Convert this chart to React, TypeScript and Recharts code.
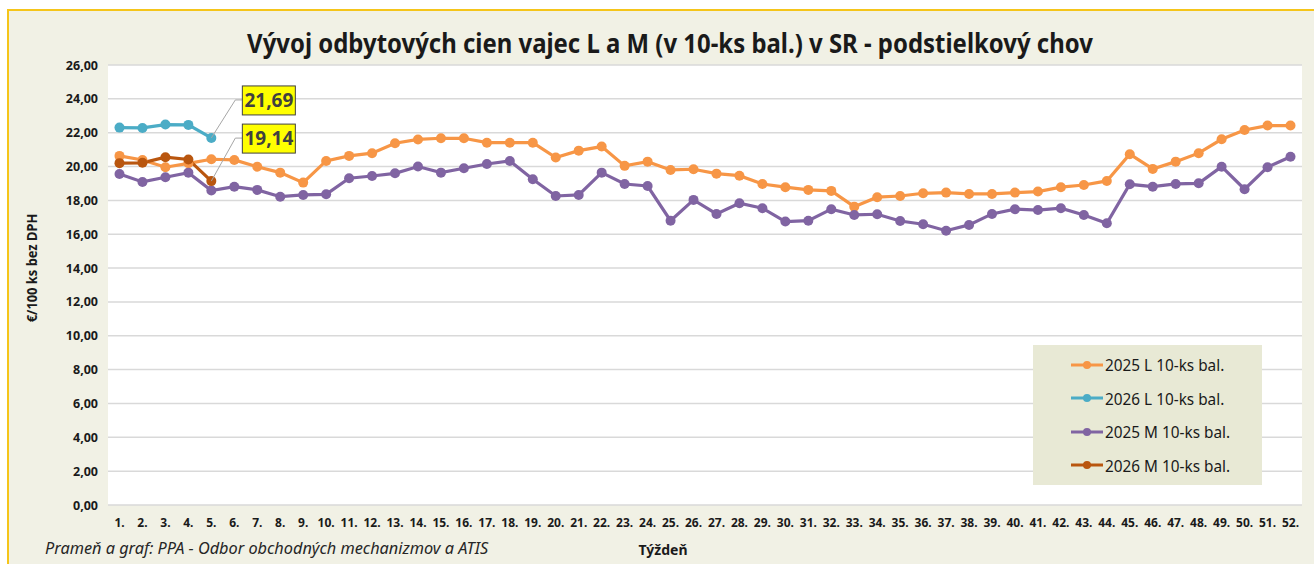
import { LineChart, Line, XAxis, YAxis, CartesianGrid, LabelList } from 'recharts';

const WEEKS = Array.from({ length: 52 }, (_, i) => `${i + 1}.`);

const L_2025 = [
  20.63, 20.39, 19.96, 20.19, 20.43, 20.39, 19.99, 19.64, 19.05, 20.33,
  20.63, 20.79, 21.38, 21.6, 21.67, 21.67, 21.41, 21.41, 21.41, 20.53,
  20.94, 21.18, 20.04, 20.29, 19.8, 19.84, 19.58, 19.46, 18.97, 18.78,
  18.62, 18.56, 17.63, 18.19, 18.26, 18.42, 18.46, 18.38, 18.38, 18.46,
  18.52, 18.78, 18.91, 19.15, 20.73, 19.86, 20.29, 20.79, 21.61, 22.16,
  22.42, 22.42,
];
const L_2026 = [22.3, 22.28, 22.48, 22.46, 21.69];
const M_2025 = [
  19.56, 19.09, 19.37, 19.64, 18.58, 18.81, 18.62, 18.22, 18.32, 18.36,
  19.31, 19.44, 19.6, 20.0, 19.64, 19.9, 20.15, 20.33, 19.25, 18.26,
  18.32, 19.64, 18.97, 18.85, 16.8, 18.03, 17.2, 17.83, 17.54, 16.75,
  16.8, 17.48, 17.14, 17.18, 16.78, 16.59, 16.21, 16.55, 17.2, 17.48,
  17.43, 17.54, 17.14, 16.65, 18.95, 18.81, 18.97, 19.01, 19.99, 18.66,
  19.96, 20.58,
];
const M_2026 = [20.2, 20.22, 20.55, 20.42, 19.14];

const Y_TICKS = [0, 2, 4, 6, 8, 10, 12, 14, 16, 18, 20, 22, 24, 26];

const SERIES = [
  { key: 'l25', name: '2025 L 10-ks bal.', color: '#f79646' },
  { key: 'l26', name: '2026 L 10-ks bal.', color: '#4bacc6' },
  { key: 'm25', name: '2025 M 10-ks bal.', color: '#8064a2' },
  { key: 'm26', name: '2026 M 10-ks bal.', color: '#b9560f' },
];

const data = WEEKS.map((week, i) => ({
  week,
  l25: L_2025[i],
  l26: L_2026[i],
  m25: M_2025[i],
  m26: M_2026[i],
}));

const FONT = '"Noto Sans", "Open Sans", sans-serif';
const fmt = (v: number) => v.toFixed(2).replace('.', ',');

const XTick = ({ x, y, payload }: any) => (
  <text x={x} y={y + 22} textAnchor="middle" fontSize={12} fontWeight="bold" fontFamily={FONT} fill="#1a1a1a">
    {payload.value}
  </text>
);

const YTick = ({ x, y, payload }: any) => (
  <text x={x - 10} y={y + 4.5} textAnchor="end" fontSize={12.5} fontWeight="bold" fontFamily={FONT} fill="#1a1a1a">
    {fmt(payload.value)}
  </text>
);

// callout box with leader line, only on the last 2026 point
const makeCallout = (lift: number) => (props: any) => {
  const { x, y, value, index } = props;
  if (index !== 4 || value == null) return null;
  const ex = x + 24;
  const ey = y - lift;
  return (
    <g>
      <polyline points={`${x},${y} ${ex},${ey} ${ex + 7},${ey}`} fill="none" stroke="#a6a6a6" strokeWidth={1} />
      <rect x={ex + 7} y={ey - 14} width={53} height={29} fill="#ffff00" stroke="#404040" strokeWidth={1} />
      <text x={ex + 33.5} y={ey + 7} textAnchor="middle" fontSize={19} fontWeight="bold" fontFamily={FONT} fill="#404040">
        {fmt(value)}
      </text>
    </g>
  );
};

const LegendBox = () => (
  <div style={{ background: '#e8e9d5', width: 229, height: 140, boxSizing: 'border-box', paddingTop: 3 }}>
    {SERIES.map((s) => (
      <div key={s.key} style={{ display: 'flex', alignItems: 'center', height: 33.5, paddingLeft: 37 }}>
        <svg width={34} height={10}>
          <line x1={1} y1={5} x2={33} y2={5} stroke={s.color} strokeWidth={3} />
          <circle cx={17} cy={5} r={4} fill={s.color} />
        </svg>
        <span style={{ fontFamily: FONT, fontSize: 16.5, color: '#1a1a1a', marginLeft: 1, display: 'inline-block', transform: 'scaleX(0.93)', transformOrigin: 'left center' }}>
          {s.name}
        </span>
      </div>
    ))}
  </div>
);

export default function App() {
  return (
    <div style={{ position: 'absolute', left: 0, top: 0, width: 1314, height: 564, background: '#fff', overflow: 'hidden' }}>
      <div
        style={{
          position: 'absolute', left: 7, top: 9, width: 1320, height: 570,
          background: '#f1f1e5', borderTop: '2px solid #f5c51a', borderLeft: '2px solid #f5c51a',
        }}
      />
      <div style={{ position: 'absolute', left: 0, top: 0 }}>
        <LineChart width={1314} height={564} data={data} margin={{ top: 65, right: 12, bottom: 29, left: 0 }}>
          <CartesianGrid vertical={false} stroke="#d9d9d9" strokeWidth={1.5} fill="#ffffff" />
          <XAxis
            dataKey="week"
            axisLine={false}
            tickLine={false}
            tickSize={0}
            tickMargin={0}
            height={30}
            interval={0}
            padding={{ left: 11.5, right: 11.5 }}
            tick={<XTick />}
          />
          <YAxis
            domain={[0, 26]}
            ticks={Y_TICKS}
            axisLine={false}
            tickLine={false}
            tickSize={0}
            tickMargin={0}
            width={108}
            interval={0}
            tick={<YTick />}
          />
          <Line type="linear" dataKey="l25" name={SERIES[0].name} stroke={SERIES[0].color} strokeWidth={3.2} dot={{ r: 5, fill: SERIES[0].color, stroke: SERIES[0].color, strokeWidth: 0 }} activeDot={false} isAnimationActive={false} />
          <Line type="linear" dataKey="m25" name={SERIES[2].name} stroke={SERIES[2].color} strokeWidth={3.2} dot={{ r: 5, fill: SERIES[2].color, stroke: SERIES[2].color, strokeWidth: 0 }} activeDot={false} isAnimationActive={false} />
          <Line type="linear" dataKey="l26" name={SERIES[1].name} stroke={SERIES[1].color} strokeWidth={3.2} dot={{ r: 5, fill: SERIES[1].color, stroke: SERIES[1].color, strokeWidth: 0 }} activeDot={false} isAnimationActive={false}>
            <LabelList dataKey="l26" content={makeCallout(38)} />
          </Line>
          <Line type="linear" dataKey="m26" name={SERIES[3].name} stroke={SERIES[3].color} strokeWidth={3.2} dot={{ r: 5, fill: SERIES[3].color, stroke: SERIES[3].color, strokeWidth: 0 }} activeDot={false} isAnimationActive={false}>
            <LabelList dataKey="m26" content={makeCallout(43)} />
          </Line>
        </LineChart>
      </div>
      <div style={{ position: 'absolute', left: 1033, top: 345 }}>
        <LegendBox />
      </div>
      <div
        style={{
          position: 'absolute', left: 670, top: 27, transform: 'translateX(-50%) scaleX(0.92)',
          whiteSpace: 'nowrap', fontFamily: FONT,
          fontWeight: 'bold', fontSize: 26, color: '#1a1a1a', lineHeight: '32px',
        }}
      >
        Vývoj odbytových cien vajec L a M (v 10-ks bal.) v SR - podstielkový chov
      </div>
      <div
        style={{
          position: 'absolute', left: 31, top: 268, transform: 'translate(-50%, -50%) rotate(-90deg) scaleX(0.92)',
          whiteSpace: 'nowrap', fontFamily: FONT, fontWeight: 'bold', fontSize: 14, color: '#1a1a1a',
        }}
      >
        €/100 ks bez DPH
      </div>
      <div style={{ position: 'absolute', left: 45, top: 537, fontFamily: FONT, fontStyle: 'italic', fontSize: 16.3, color: '#262626', whiteSpace: 'nowrap' }}>
        Prameň a graf: PPA - Odbor obchodných mechanizmov a ATIS
      </div>
      <div style={{ position: 'absolute', left: 663, top: 540, transform: 'translateX(-50%)', fontFamily: FONT, fontWeight: 'bold', fontSize: 14, color: '#1a1a1a' }}>
        Týždeň
      </div>
    </div>
  );
}
